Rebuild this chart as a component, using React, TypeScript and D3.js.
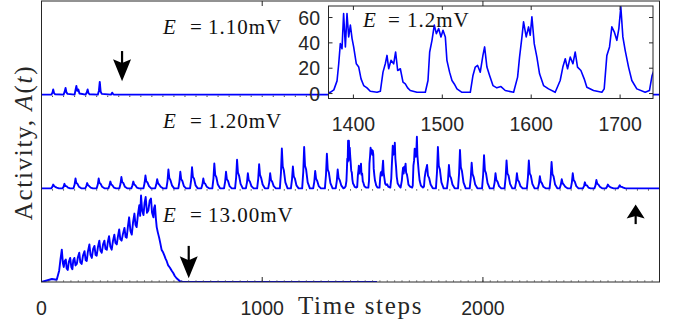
import React from "react";
import * as d3 from "d3";

type Pt = [number, number];

// E = 1.10 mV : a few small bursts then silence
const seriesLow: Pt[] = [
  [0, 0], [45, 0], [50, 3], [53, 7], [57, 2], [62, 0.5], [100, 0], [105, 4], [109, 9], [113, 3],
  [118, 1], [150, 0], [154, 6], [158, 11.5], [162, 5], [167, 7], [172, 1.5], [200, 0], [205, 3],
  [209, 7], [213, 2], [218, 0.5], [255, 0], [260, 5], [264, 17], [268, 4], [273, 1], [315, 0],
  [320, 2.7], [325, 0.5], [330, 0], [2800, 0],
];

// E = 1.20 mV : sustained oscillation (detailed between 1372 and 1737, the inset window)
const seriesMid: Pt[] = [
  [0, 0],
  [44, 0], [49, 2], [53, 5], [57, 3], [62, 2], [69, 1], [79, 0],
  [95, 0], [100, 2], [104, 6], [108, 3], [113, 3], [120, 1], [130, 0],
  [145, 0], [150, 5], [154, 13], [158, 7], [163, 6], [170, 2], [180, 0],
  [198, 0], [203, 3], [207, 7], [211, 4], [216, 3], [223, 1], [233, 0],
  [250, 0], [255, 5], [259, 13], [263, 7], [268, 6], [275, 2], [285, 0],
  [303, 0], [308, 4], [312, 9], [316, 5], [321, 4], [328, 1], [338, 0],
  [353, 0], [358, 6], [362, 15], [366, 8], [371, 7], [378, 2], [388, 0],
  [407, 0], [412, 4], [416, 9], [420, 5], [425, 4], [432, 1], [442, 0],
  [462, 0], [467, 7], [471, 17], [475, 9], [480, 8], [487, 3], [497, 0],
  [515, 0], [520, 5], [524, 12], [528, 7], [533, 5], [540, 2], [550, 0],
  [566, 0], [571, 10], [575, 25], [579, 14], [584, 11], [591, 4], [601, 0],
  [620, 0], [625, 9], [629, 22], [633, 12], [638, 10], [645, 3], [655, 0],
  [673, 0], [678, 11], [682, 28], [686, 15], [691, 13], [698, 4], [708, 0],
  [724, 0], [729, 5], [733, 13], [737, 7], [742, 6], [749, 2], [759, 0],
  [774, 0], [779, 13], [783, 33], [787, 18], [792, 15], [799, 5], [809, 0],
  [827, 0], [832, 9], [836, 22], [840, 12], [845, 10], [852, 3], [862, 0],
  [877, 0], [882, 15], [886, 38], [890, 21], [895, 17], [902, 6], [912, 0],
  [926, 0], [931, 8], [935, 20], [939, 11], [944, 9], [951, 3], [961, 0],
  [977, 0], [982, 13], [986, 32], [990, 18], [995, 14], [1002, 5], [1012, 0],
  [1027, 0], [1032, 8], [1036, 20], [1040, 11], [1045, 9], [1052, 3], [1062, 0],
  [1080, 0], [1085, 21], [1089, 53], [1093, 29], [1098, 24], [1105, 8], [1115, 0],
  [1130, 0], [1135, 12], [1139, 29], [1143, 16], [1148, 13], [1155, 4], [1165, 0],
  [1181, 0], [1186, 22], [1190, 55], [1194, 30], [1199, 25], [1206, 8], [1216, 0],
  [1231, 0], [1236, 9], [1240, 23], [1244, 13], [1249, 10], [1256, 3], [1266, 0],
  [1284, 0], [1289, 18], [1293, 46], [1297, 25], [1302, 21], [1309, 7], [1319, 0],
  [1333, 0], [1338, 10], [1342, 25], [1346, 14], [1351, 11], [1358, 4], [1368, 0],
  // inset window
  [1374, 1], [1378, 2.9], [1381.6, 10], [1383.5, 23.5], [1385.3, 39.4], [1387.2, 35.4], [1389, 63.2],
  [1391, 36.8], [1392.8, 63.2], [1394.7, 44.7], [1396.6, 54], [1398.5, 43.4], [1400.3, 36.8],
  [1403.3, 23.5], [1406, 20.9], [1408.6, 11.6], [1411.6, 6.3], [1415.3, 4.5], [1419, 1.8], [1426.6, 1],
  [1430.3, 1.8], [1433.3, 16.9], [1435.9, 23.5], [1437.8, 30.1], [1439.7, 19.6], [1442.3, 26.2],
  [1445.3, 23.5], [1447.5, 32.8], [1449.8, 18.2], [1452.8, 19.6], [1455.8, 9], [1458.4, 7.6],
  [1461, 4.5], [1464, 2.4], [1471.5, 1], [1480.9, 1],
  [1483.9, 10.3], [1485.8, 32.8], [1488.4, 42], [1491, 54], [1493.3, 47.3], [1495.9, 51.3],
  [1498.5, 44.7], [1500.8, 50], [1503.4, 44.7], [1505.2, 26.2], [1508.2, 16.9], [1510.9, 10.3],
  [1513.5, 7.6], [1516.5, 3.7], [1522.1, 1], [1531.5, 1],
  [1534.5, 14.3], [1537.1, 20.9], [1539.7, 22.2], [1542.7, 16.9], [1545.7, 30.1], [1547.6, 36.8],
  [1550.2, 20.9], [1553.2, 14.3], [1557, 6.3], [1561.4, 4.5], [1566, 5.5], [1570.8, 2.4], [1580.2, 1],
  [1584.7, 13], [1586.9, 28.8], [1589.6, 44.7], [1591.4, 56.6], [1594.4, 44.7], [1597, 52.6],
  [1598.9, 46], [1600.8, 60.6], [1603.4, 39.4], [1606.4, 28.8], [1609.4, 15.6], [1613.9, 6.3],
  [1619.5, 3.7], [1627, 1],
  [1632.6, 10.3], [1635.6, 20.9], [1638.3, 27.5], [1640.9, 19.6], [1643.9, 28.8], [1646.9, 23.5],
  [1649.5, 32.8], [1652.1, 20.9], [1655.9, 18.2], [1659.6, 11.6], [1662.6, 5], [1670.1, 2.4], [1679.5, 1],
  [1682.1, 3.7], [1685.1, 30.1], [1688.1, 36.8], [1690.7, 52.6], [1693.4, 48.7], [1696.3, 42],
  [1698.6, 51.3], [1700.8, 68.5], [1703.1, 44.7], [1705.7, 34.1], [1709.5, 20.9], [1713.2, 10.3],
  [1718.8, 3.7], [1728.2, 1], [1733, 2.4], [1736, 14.3],
  // after the inset window
  [1740, 22], [1744, 27], [1747, 31], [1751, 17], [1756, 14], [1763, 5], [1773, 0],
  [1787, 0], [1792, 22], [1796, 55], [1800, 30], [1805, 25], [1812, 8], [1822, 0],
  [1837, 0], [1842, 12], [1846, 31], [1850, 17], [1855, 14], [1862, 5], [1872, 0],
  [1887, 0], [1892, 20], [1896, 51], [1900, 28], [1905, 23], [1912, 8], [1922, 0],
  [1940, 0], [1945, 14], [1949, 34], [1953, 19], [1958, 15], [1965, 5], [1975, 0],
  [1996, 0], [2001, 18], [2005, 44], [2009, 24], [2014, 20], [2021, 7], [2031, 0],
  [2048, 0], [2053, 8], [2057, 20], [2061, 11], [2066, 9], [2073, 3], [2083, 0],
  [2098, 0], [2103, 15], [2107, 37], [2111, 20], [2116, 17], [2123, 6], [2133, 0],
  [2145, 0], [2150, 8], [2154, 20], [2158, 11], [2163, 9], [2170, 3], [2180, 0],
  [2199, 0], [2204, 15], [2208, 37], [2212, 20], [2217, 17], [2224, 6], [2234, 0],
  [2249, 0], [2254, 6], [2258, 16], [2262, 9], [2267, 7], [2274, 2], [2284, 0],
  [2302, 0], [2307, 14], [2311, 35], [2315, 19], [2320, 16], [2327, 5], [2337, 0],
  [2348, 0], [2353, 5], [2357, 12], [2361, 7], [2366, 5], [2373, 2], [2383, 0],
  [2398, 0], [2403, 8], [2407, 20], [2411, 11], [2416, 9], [2423, 3], [2433, 0],
  [2453, 0], [2458, 3], [2462, 8], [2466, 4], [2471, 4], [2478, 1], [2488, 0],
  [2505, 0], [2510, 4], [2514, 11], [2518, 6], [2523, 5], [2530, 2], [2540, 0],
  [2557, 0], [2562, 2], [2566, 5], [2570, 3], [2575, 2], [2582, 1], [2592, 0],
  [2611, 0], [2616, 2], [2620, 4], [2624, 2], [2629, 2], [2636, 1], [2646, 0],
  [2800, 0],
];

// E = 13.00 mV : noisy ramp then collapse
const seriesHigh: Pt[] = [
  [0, 0], [24, 2], [47, 4], [69, 3], [80, 15], [86, 30], [92, 43], [97, 25], [101, 20], [105, 28],
  [110, 30], [114, 18], [119, 16], [124, 27], [130, 32], [135, 20], [140, 17], [144, 29], [149, 32],
  [154, 22], [160, 24], [165, 33], [171, 39], [176, 26], [182, 24], [188, 35], [195, 41], [200, 29],
  [205, 28], [210, 40], [217, 50], [222, 36], [228, 32], [234, 44], [240, 48], [245, 36], [250, 35],
  [256, 47], [262, 55], [267, 42], [273, 39], [279, 50], [285, 55], [290, 44], [296, 43], [301, 54],
  [306, 61], [312, 47], [318, 43], [324, 55], [330, 63], [335, 52], [341, 50], [346, 60], [352, 70],
  [357, 57], [363, 55], [369, 64], [376, 72], [381, 60], [386, 59], [392, 75], [397, 86], [403, 68],
  [409, 63], [415, 80], [421, 91], [426, 76], [431, 73], [437, 90], [443, 102], [447, 88], [451, 115],
  [456, 95], [462, 89], [467, 105], [472, 113], [478, 92], [484, 95], [490, 108], [496, 111],
  [501, 92], [507, 86], [510, 98], [514, 102], [518, 85], [522, 73], [527, 66], [533, 59], [538, 52],
  [544, 43], [550, 40], [557, 35], [562, 31], [567, 28], [574, 22], [582, 19], [590, 15], [597, 12],
  [604, 8], [612, 5], [620, 3], [627, 1], [641, 0], [1520, 0],
];

const panelSeries = [seriesLow, seriesMid, seriesHigh];
const panelLabels = ["1.10", "1.20", "13.00"];
const xTicks = [0, 1000, 2000];
const insetXTicks = [1400, 1500, 1600, 1700];
const insetYTicks = [0, 20, 40, 60];
const insetLabel = "1.2";

// arrows: panel index, time, tail value, tip value
const arrows = [
  { panel: 0, t: 365, from: 58, to: 18, head: 22 },
  { panel: 2, t: 667, from: 48, to: 5, head: 22 },
  { panel: 2, t: 2692, from: 77, to: 103, head: 14 },
];

const W = 673;
const H = 324;
const frame = { left: 41.5, right: 659.5, top: 1, bottom: 282 };
const panelH = (frame.bottom - frame.top) / 3;
const inset = { left: 328.5, right: 653, top: 6, bottom: 98.5 };

const axisColor = "#262626";
const blue = "#0000ff";
const sans = "'Liberation Sans', Arial, sans-serif";
const serif = "'Liberation Serif', 'Times New Roman', serif";

export default function App() {
  const x = d3.scaleLinear().domain([0, 2800]).range([frame.left, frame.right]);
  const ys = [0, 1, 2].map((k) => {
    const base = frame.top + (k + 1) * panelH;
    return d3.scaleLinear().domain([0, 125]).range([base, base - 94]);
  });

  const xi = d3.scaleLinear().domain([1372, 1737]).range([inset.left, inset.right]);
  const yi = d3.scaleLinear().domain([-3.9, 69.1]).range([inset.bottom, inset.top]);

  const insetLine = d3
    .line<Pt>()
    .x((d) => xi(d[0]))
    .y((d) => yi(d[1]));

  const arrowPath = (cx: number, tip: number, dir: number, head: number) => {
    // dir = 1 points down, -1 points up
    const w = 9;
    const notch = head * 0.82;
    return `M${cx},${tip} L${cx - w},${tip - dir * head} L${cx},${tip - dir * notch} L${cx + w},${tip - dir * head} Z`;
  };

  return (
    <svg
      width={W}
      height={H}
      style={{ position: "absolute", left: 0, top: 0, background: "#fff" }}
    >
      <defs>
        <clipPath id="main-clip">
          <rect
            x={frame.left}
            y={frame.top}
            width={frame.right - frame.left}
            height={frame.bottom - frame.top}
          />
        </clipPath>
        <clipPath id="inset-clip">
          <rect
            x={inset.left}
            y={inset.top}
            width={inset.right - inset.left}
            height={inset.bottom - inset.top}
          />
        </clipPath>
      </defs>

      {/* data of the three panels */}
      <g clipPath="url(#main-clip)">
        {panelSeries.map((s, k) => {
          const line = d3
            .line<Pt>()
            .x((d) => x(d[0]))
            .y((d) => ys[k](d[1]));
          return (
            <path
              key={k}
              d={line(s) || ""}
              fill="none"
              stroke={blue}
              strokeWidth={1.9}
              strokeLinejoin="round"
            />
          );
        })}
      </g>

      {/* small marks along the panel baselines */}
      {[0, 1].map((k) =>
        d3.range(50, 2800, 50).map((t) => (
          <rect
            key={`d${k}-${t}`}
            x={x(t) - 0.5}
            y={ys[k](0) + 1}
            width={1}
            height={1.2}
            fill="#333"
          />
        ))
      )}
      {d3.range(100 / 3, 2800, 100 / 3).map((t) => (
        <line
          key={`m${t}`}
          x1={x(t)}
          x2={x(t)}
          y1={frame.bottom}
          y2={frame.bottom - 2}
          stroke="#555"
          strokeWidth={0.6}
        />
      ))}

      {/* frame */}
      <rect
        x={frame.left}
        y={frame.top}
        width={frame.right - frame.left}
        height={frame.bottom - frame.top}
        fill="none"
        stroke={axisColor}
        strokeWidth={1}
      />
      {xTicks.slice(1).map((t) => (
        <g key={`t${t}`}>
          <line x1={x(t)} x2={x(t)} y1={frame.top} y2={frame.top + 5} stroke={axisColor} />
          <line x1={x(t)} x2={x(t)} y1={frame.bottom} y2={frame.bottom - 5} stroke={axisColor} />
        </g>
      ))}
      {xTicks.map((t) => (
        <text
          key={`xl${t}`}
          x={x(t)}
          y={315}
          textAnchor="middle"
          fontFamily={sans}
          fontSize={19.5}
          fill={axisColor}
        >
          {t}
        </text>
      ))}
      <text x={298} y={314} fontFamily={serif} fontSize={25} letterSpacing={1.7} fill={axisColor}>
        Time steps
      </text>
      <text
        transform={`translate(32,142.5) rotate(-90)`}
        textAnchor="middle"
        fontFamily={serif}
        fontSize={25}
        letterSpacing={1.7}
        fill={axisColor}
      >
        Activity, <tspan fontStyle="italic">A</tspan>(<tspan fontStyle="italic">t</tspan>)
      </text>

      {/* panel labels */}
      {panelLabels.map((lab, k) => {
        const yb = [33.5, 128, 222][k];
        return (
          <g key={`pl${k}`} fontFamily={serif} fontSize={21} fill="#111">
            <text x={163} y={yb} fontStyle="italic">E</text>
            <text x={196} y={yb} textAnchor="middle">=</text>
            <text x={208} y={yb} letterSpacing={1}>{lab}mV</text>
          </g>
        );
      })}

      {/* arrows */}
      {arrows.map((a, i) => {
        const cx = x(a.t);
        const tail = ys[a.panel](a.from);
        const tip = ys[a.panel](a.to);
        const dir = tip > tail ? 1 : -1;
        return (
          <g key={`a${i}`}>
            <line
              x1={cx}
              x2={cx}
              y1={tail}
              y2={tip - dir * a.head * 0.6}
              stroke="#000"
              strokeWidth={2.2}
            />
            <path d={arrowPath(cx, tip, dir, a.head)} fill="#000" />
          </g>
        );
      })}

      {/* inset */}
      <rect
        x={inset.left}
        y={inset.top}
        width={inset.right - inset.left}
        height={inset.bottom - inset.top}
        fill="#fff"
      />
      <g clipPath="url(#inset-clip)">
        <path
          d={insetLine(seriesMid) || ""}
          fill="none"
          stroke={blue}
          strokeWidth={1.6}
          strokeLinejoin="round"
        />
      </g>
      <rect
        x={inset.left}
        y={inset.top}
        width={inset.right - inset.left}
        height={inset.bottom - inset.top}
        fill="none"
        stroke={axisColor}
        strokeWidth={1}
      />
      {insetXTicks.map((t) => (
        <g key={`ix${t}`}>
          <line x1={xi(t)} x2={xi(t)} y1={inset.bottom} y2={inset.bottom - 4} stroke={axisColor} />
          <line x1={xi(t)} x2={xi(t)} y1={inset.top} y2={inset.top + 4} stroke={axisColor} />
          <text
            x={xi(t)}
            y={131}
            textAnchor="middle"
            fontFamily={sans}
            fontSize={19.5}
            fill={axisColor}
          >
            {t}
          </text>
        </g>
      ))}
      {insetYTicks.map((v) => (
        <g key={`iy${v}`}>
          <line x1={inset.left} x2={inset.left + 4} y1={yi(v)} y2={yi(v)} stroke={axisColor} />
          <line x1={inset.right} x2={inset.right - 4} y1={yi(v)} y2={yi(v)} stroke={axisColor} />
          <text
            x={320}
            y={yi(v)}
            dy="0.36em"
            textAnchor="end"
            fontFamily={sans}
            fontSize={19.5}
            fill={axisColor}
          >
            {v}
          </text>
        </g>
      ))}
      <g fontFamily={serif} fontSize={21} fill="#111">
        <text x={363} y={27} fontStyle="italic">E</text>
        <text x={394} y={27} textAnchor="middle">=</text>
        <text x={407} y={27} letterSpacing={1}>{insetLabel}mV</text>
      </g>
    </svg>
  );
}
